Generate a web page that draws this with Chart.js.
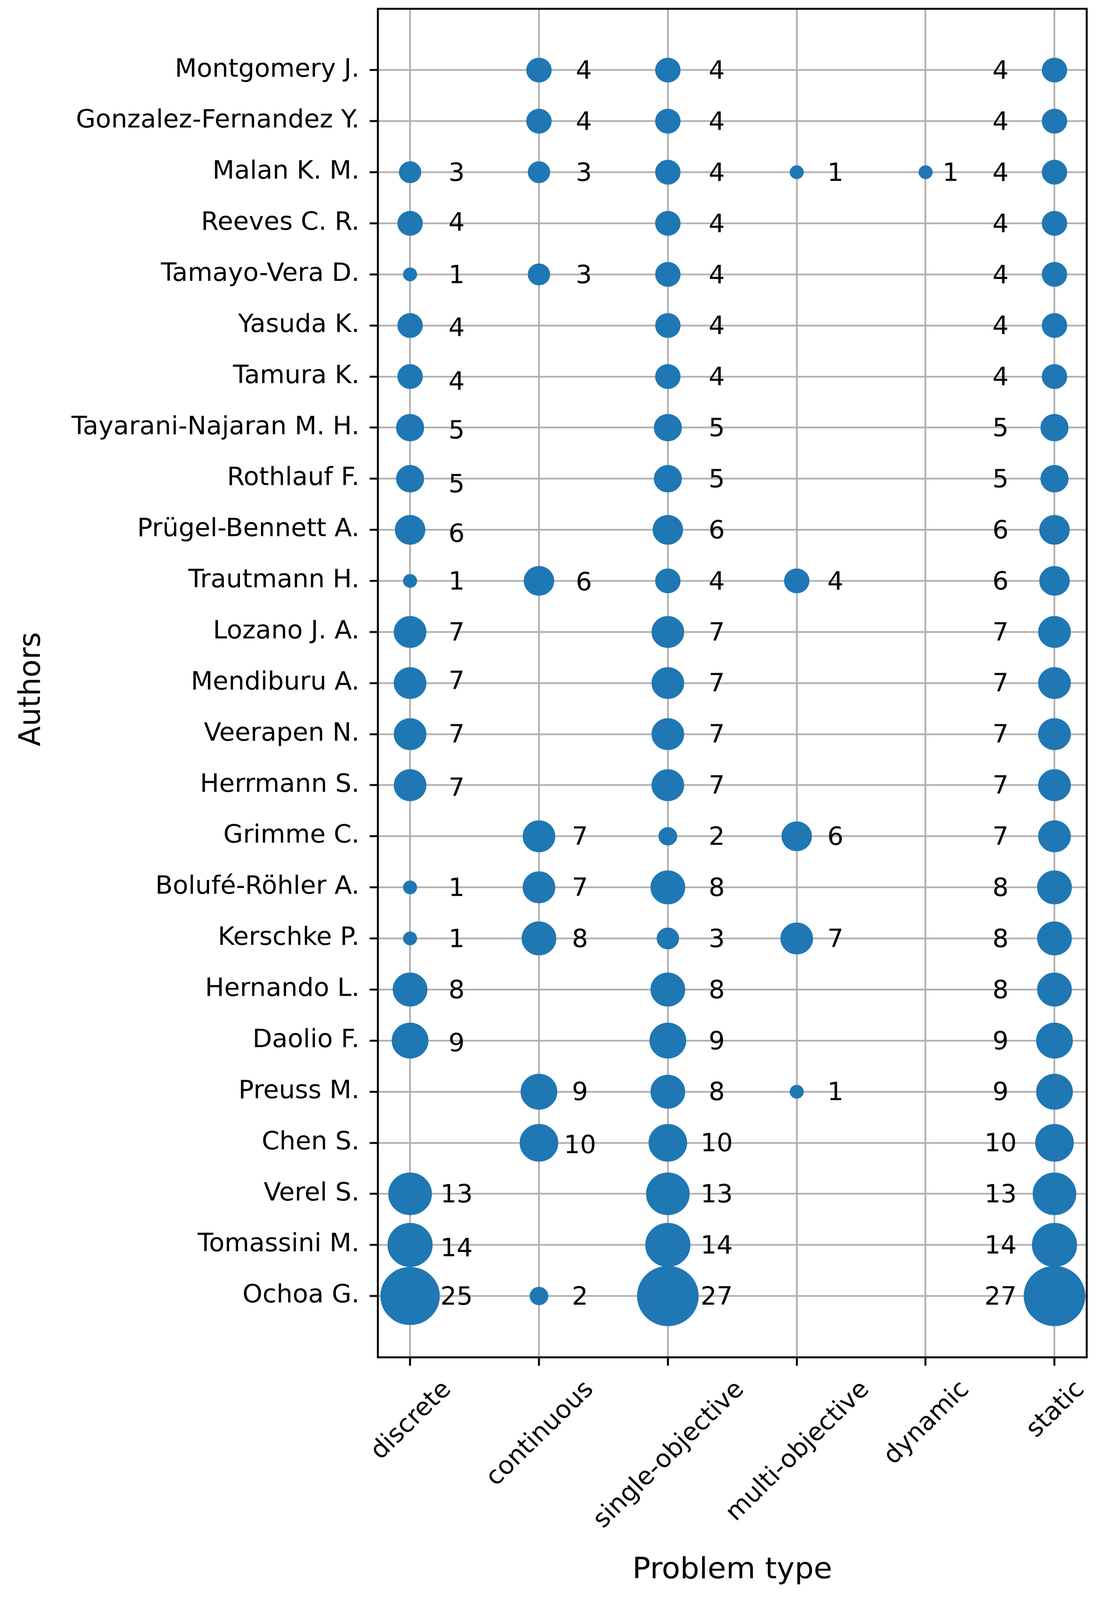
<!DOCTYPE html>
<html>
<head>
<meta charset="utf-8">
<script src="https://cdn.jsdelivr.net/npm/chart.js@4/dist/chart.umd.min.js"></script>
<style>
  html, body { margin: 0; padding: 0; background: #fff; overflow: hidden; }
  canvas { display: block; }
</style>
</head>
<body>
<canvas id="myChart1" width="2815" height="4193" style="width:2815px;height:4193px"></canvas>
<script>
//------------------ データ ------------------//
// 著者 (上から下)
const authors = [
    'Montgomery J.', 'Gonzalez-Fernandez Y.', 'Malan K. M.', 'Reeves C. R.', 'Tamayo-Vera D.',
    'Yasuda K.', 'Tamura K.', 'Tayarani-Najaran M. H.', 'Rothlauf F.', 'Prügel-Bennett A.',
    'Trautmann H.', 'Lozano J. A.', 'Mendiburu A.', 'Veerapen N.', 'Herrmann S.',
    'Grimme C.', 'Bolufé-Röhler A.', 'Kerschke P.', 'Hernando L.', 'Daolio F.',
    'Preuss M.', 'Chen S.', 'Verel S.', 'Tomassini M.', 'Ochoa G.'
]
// 問題タイプ
const problemTypes = ['discrete', 'continuous', 'single-objective', 'multi-objective', 'dynamic', 'static']

// 各問題タイプの件数 (authors と同じ順番, null = なし)
const discrete    = [null, null, 3, 4, 1, 4, 4, 5, 5, 6, 1, 7, 7, 7, 7, null, 1, 1, 8, 9, null, null, 13, 14, 25]
const continuous  = [4, 4, 3, null, 3, null, null, null, null, null, 6, null, null, null, null, 7, 7, 8, null, null, 9, 10, null, null, 2]
const singleObj   = [4, 4, 4, 4, 4, 4, 4, 5, 5, 6, 4, 7, 7, 7, 7, 2, 8, 3, 8, 9, 8, 10, 13, 14, 27]
const multiObj    = [null, null, 1, null, null, null, null, null, null, null, 4, null, null, null, null, 6, null, 7, null, null, 1, null, null, null, null]
const dynamicCol  = [null, null, 1, null, null, null, null, null, null, null, null, null, null, null, null, null, null, null, null, null, null, null, null, null, null]
const staticCol   = [4, 4, 4, 4, 4, 4, 4, 5, 5, 6, 6, 7, 7, 7, 7, 7, 8, 8, 8, 9, 9, 10, 13, 14, 27]
const columns = [discrete, continuous, singleObj, multiObj, dynamicCol, staticCol]

//------------------ スタイル ------------------//
const CHART_ID = 'myChart1'
const W = 2815
const H = 4193
const FONT_FAMILY = '"DejaVu Sans", sans-serif'
const TICK_SIZE = 65
const TITLE_SIZE = 77
const BLUE = '#1f77b4'
const GRID = '#b0b0b0'
// 数値ラベルの横方向のずらし (px, 列ごと)
const LABEL_DX = [119, 105, 125, 99, 64, -138]
// 個別ラベルの微調整 '行,列': [dx, dy] (元の図で重なり回避されたもの)
const LABEL_NUDGE = {
    '3,0': [0, -4], '5,0': [0, 5], '6,0': [0, 12], '7,0': [0, 6], '8,0': [0, 13],
    '9,0': [0, 9], '12,0': [0, -6], '14,0': [0, 6], '19,0': [0, 5], '23,0': [0, 7],
    '0,1': [10, 0], '1,1': [10, 0], '2,1': [10, 0], '4,1': [10, 0], '10,1': [10, 2],
    '21,1': [0, 5]
}

/*--------------------------------------------------------------------
件数から円の半径を計算する関数 (面積 ∝ 件数)
--------------------------------------------------------------------*/
function bubbleRadius(v){
    return 14.5 * Math.sqrt(v)
}

// データセット作成
const datasets = columns.map(function(col, ci){
    const pts = []
    col.forEach(function(v, ri){
        if (v != null) pts.push({x: ci, y: ri, r: bubbleRadius(v)})
    })
    return {
        label: problemTypes[ci],
        data: pts,
        backgroundColor: BLUE,
        borderColor: BLUE,
        borderWidth: 7,
        hoverRadius: 0
    }
})

/*--------------------------------------------------------------------
枠・数値ラベル・x軸ラベル・軸タイトルを描画するプラグイン
--------------------------------------------------------------------*/
const overlayPlugin = {
    id: 'overlay',
    afterDraw(chart){
        const ctx = chart.ctx
        const a = chart.chartArea
        const xs = chart.scales.x
        const ys = chart.scales.y
        ctx.save()

        // 枠線
        ctx.strokeStyle = '#000'
        ctx.lineWidth = 5
        ctx.strokeRect(a.left, a.top, a.right - a.left, a.bottom - a.top)

        // 数値ラベル
        ctx.fillStyle = '#000'
        ctx.font = TICK_SIZE + 'px ' + FONT_FAMILY
        ctx.textAlign = 'center'
        ctx.textBaseline = 'alphabetic'
        columns.forEach(function(col, ci){
            col.forEach(function(v, ri){
                if (v == null) return
                const nudge = LABEL_NUDGE[ri + ',' + ci] || [0, 0]
                const px = xs.getPixelForValue(ci) + LABEL_DX[ci] + nudge[0]
                const py = ys.getPixelForValue(ri) + 0.346 * TICK_SIZE + nudge[1]
                ctx.fillText(String(v), px, py)
            })
        })

        // x軸ラベル (45度回転, 中央揃え)
        const top = a.bottom + 22 + 22
        const h = 1.164 * TICK_SIZE
        problemTypes.forEach(function(label, i){
            const w = ctx.measureText(label).width
            const side = (w + h) * Math.SQRT1_2
            ctx.save()
            ctx.translate(xs.getPixelForValue(i), top + side / 2)
            ctx.rotate(-Math.PI / 4)
            ctx.fillText(label, 0, 0.346 * TICK_SIZE)
            ctx.restore()
        })

        // 軸タイトル
        ctx.font = TITLE_SIZE + 'px ' + FONT_FAMILY
        ctx.fillText('Problem type', (a.left + a.right) / 2, 4136)
        ctx.save()
        ctx.translate(74, (a.top + a.bottom) / 2 + 16)
        ctx.rotate(-Math.PI / 2)
        ctx.fillText('Authors', 0, 0.729 * TITLE_SIZE / 2)
        ctx.restore()

        ctx.restore()
    }
}

/*--------------------------------------------------------------------
グラフをプロットする関数
--------------------------------------------------------------------*/
function plotChart(chart_id){
    const canvas = document.getElementById(chart_id)
    // ウィンドウが低い場合は全体が収まるように表示サイズを合わせる
    const viewH = Math.min(window.innerHeight || H, H)
    canvas.style.height = viewH + 'px'

    window.myChart = new Chart(canvas, {
        type: 'bubble',
        data: {datasets: datasets},
        plugins: [overlayPlugin],
        options: {
            responsive: false,
            animation: false,
            devicePixelRatio: 1,
            events: [],
            layout: {autoPadding: false, padding: {top: 23, right: 34, left: 0, bottom: 0}},
            plugins: {legend: {display: false}, tooltip: {enabled: false}},
            scales: {
                x: {
                    type: 'linear',
                    min: -0.25,
                    max: 5.25,
                    z: 1,
                    afterBuildTicks: function(scale){
                        scale.ticks = problemTypes.map(function(c, i){ return {value: i} })
                    },
                    afterFit: function(scale){
                        scale.height = H - 3557
                        scale.paddingLeft = 0
                        scale.paddingRight = 0
                        scale.paddingTop = 0
                        scale.paddingBottom = 0
                    },
                    ticks: {display: false},
                    grid: {color: GRID, lineWidth: 4.5, tickLength: 22, tickColor: '#000', tickWidth: 5},
                    border: {display: false}
                },
                y: {
                    type: 'linear',
                    min: -1.2,
                    max: 25.2,
                    reverse: true,
                    z: 1,
                    afterBuildTicks: function(scale){
                        scale.ticks = authors.map(function(c, i){ return {value: i} })
                    },
                    afterFit: function(scale){
                        scale.width = 967
                        scale.paddingLeft = 0
                        scale.paddingRight = 0
                        scale.paddingTop = 0
                        scale.paddingBottom = 0
                    },
                    ticks: {
                        autoSkip: false,
                        padding: 26,
                        color: '#000',
                        font: {family: FONT_FAMILY, size: TICK_SIZE},
                        callback: function(value){ return authors[value] }
                    },
                    grid: {color: GRID, lineWidth: 4.5, tickLength: 21, tickColor: '#000', tickWidth: 5},
                    border: {display: false}
                }
            }
        }
    })
}

plotChart(CHART_ID)
</script>
</body>
</html>
